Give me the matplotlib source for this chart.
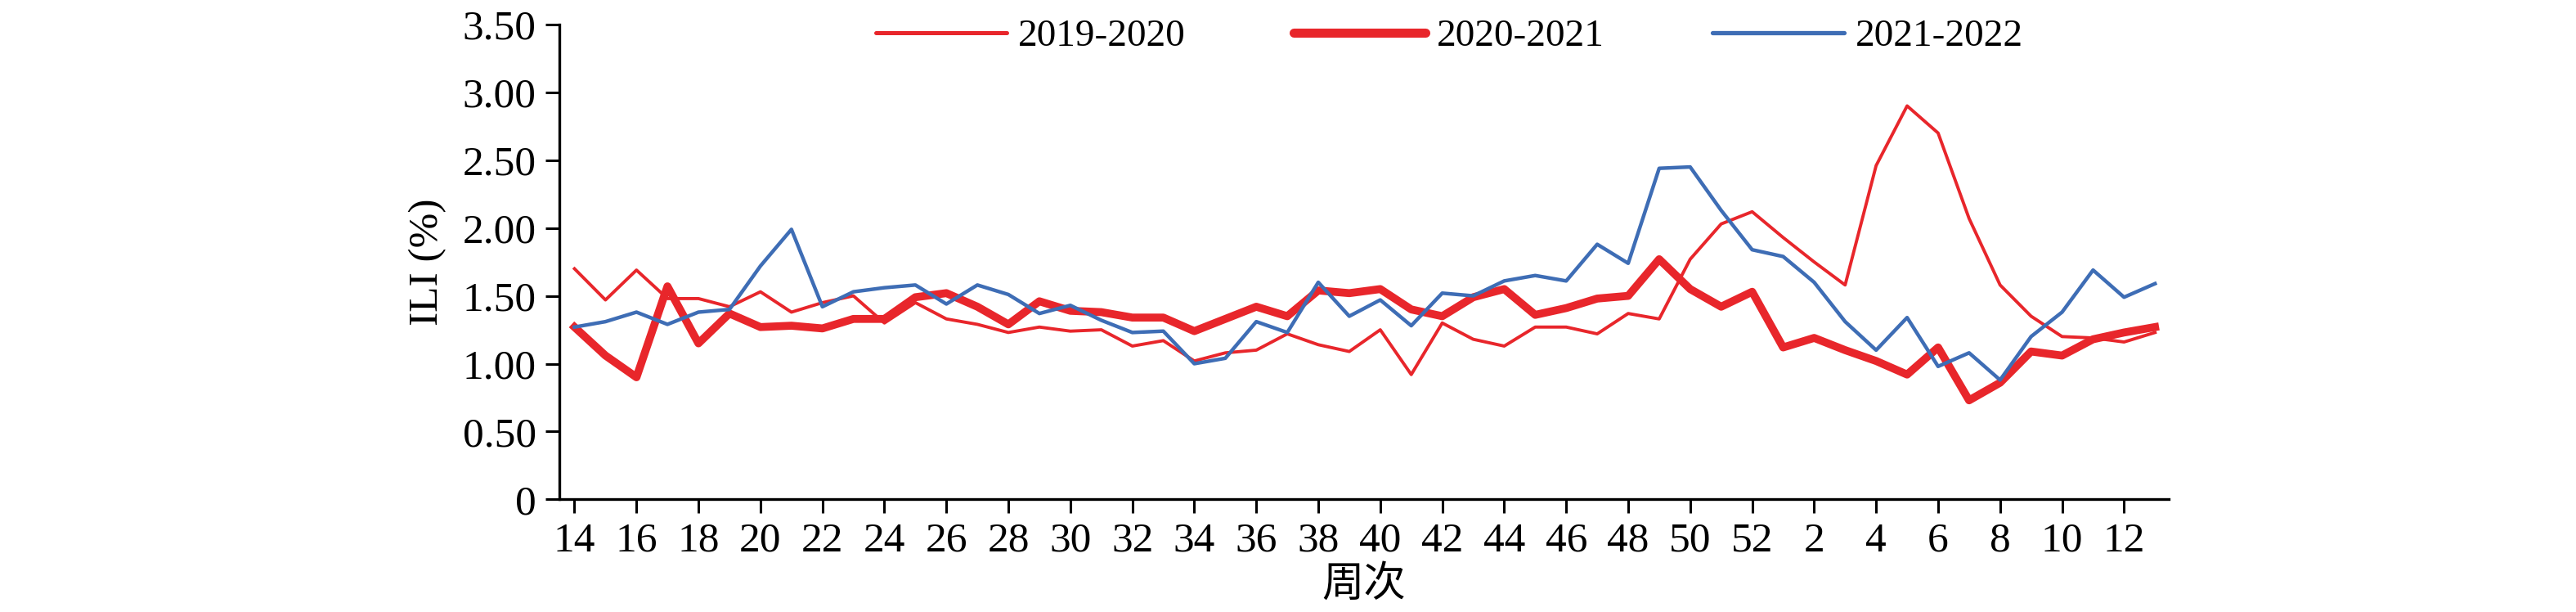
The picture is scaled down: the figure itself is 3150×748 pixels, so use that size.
import matplotlib
matplotlib.use("Agg")
import matplotlib.pyplot as plt

# weeks 14..52 then 1..13
weeks = list(range(14, 53)) + list(range(1, 14))

ili_2019 = [1.70, 1.47, 1.69, 1.48, 1.48, 1.42, 1.53, 1.38, 1.45, 1.50,
            1.30, 1.45, 1.33, 1.29, 1.23, 1.27, 1.24, 1.25, 1.13, 1.17,
            1.02, 1.08, 1.10, 1.22, 1.14, 1.09, 1.25, 0.92, 1.30, 1.18,
            1.13, 1.27, 1.27, 1.22, 1.37, 1.33, 1.77, 2.03, 2.12, 1.93,
            1.75, 1.58, 2.46, 2.90, 2.70, 2.07, 1.58, 1.35, 1.20, 1.19,
            1.16, 1.23]
ili_2020 = [1.27, 1.06, 0.90, 1.57, 1.15, 1.37, 1.27, 1.28, 1.26, 1.33,
            1.33, 1.49, 1.52, 1.42, 1.29, 1.46, 1.39, 1.38, 1.34, 1.34,
            1.24, 1.33, 1.42, 1.35, 1.54, 1.52, 1.55, 1.40, 1.35, 1.49,
            1.55, 1.36, 1.41, 1.48, 1.50, 1.77, 1.55, 1.42, 1.53, 1.12,
            1.19, 1.10, 1.02, 0.92, 1.12, 0.73, 0.86, 1.09, 1.06, 1.18,
            1.23, 1.27]
ili_2021 = [1.27, 1.31, 1.38, 1.29, 1.38, 1.40, 1.72, 1.99, 1.42, 1.53,
            1.56, 1.58, 1.44, 1.58, 1.51, 1.37, 1.43, 1.32, 1.23, 1.24,
            1.00, 1.04, 1.31, 1.23, 1.60, 1.35, 1.47, 1.28, 1.52, 1.50,
            1.61, 1.65, 1.61, 1.88, 1.74, 2.44, 2.45, 2.13, 1.84, 1.79,
            1.60, 1.31, 1.10, 1.34, 0.98, 1.08, 0.88, 1.20, 1.38, 1.69,
            1.49, 1.59]

y_ticks = [0, 0.5, 1.0, 1.5, 2.0, 2.5, 3.0, 3.5]
y_tick_labels = ["0", "0.50", "1.00", "1.50", "2.00", "2.50", "3.00", "3.50"]

red = "#E8262B"
blue = "#3E6DB5"
serif = ["Liberation Serif", "DejaVu Serif"]
cjk = ["Noto Sans CJK SC", "DejaVu Sans"]
fs = 37

fig = plt.figure(figsize=(31.5, 7.48), dpi=100)
ax = fig.add_axes([0.217, 0.184, 0.625, 0.776])

x = list(range(len(weeks)))
ax.plot(x, ili_2019, color=red, lw=2.8, label="2019-2020")
ax.plot(x, ili_2020, color=red, lw=7.0, label="2020-2021")
ax.plot(x, ili_2021, color=blue, lw=3.2, label="2021-2022")

ax.set_xlim(-0.5, 51.45)
ax.set_ylim(0, 3.5)

xt = [i for i, w in enumerate(weeks) if w % 2 == 0]
ax.set_xticks(xt)
ax.set_xticklabels([str(weeks[i]) for i in xt], family=serif, fontsize=fs)
ax.set_yticks(y_ticks)
ax.set_yticklabels(y_tick_labels, family=serif, fontsize=fs)
ax.tick_params(axis="both", direction="out", length=12, width=2.2, colors="black", pad=8)

for s in ["top", "right"]:
    ax.spines[s].set_visible(False)
for s in ["left", "bottom"]:
    ax.spines[s].set_linewidth(2.4)

ax.set_ylabel("ILI (%)", family=serif, fontsize=fs, labelpad=14)
ax.set_xlabel("周次", family=cjk, fontsize=fs, labelpad=2)

leg = ax.legend(loc="upper center", bbox_to_anchor=(0.553, 1.085), ncol=3, frameon=False,
                prop={"family": serif, "size": 34}, handlelength=3.4, columnspacing=2.8,
                handletextpad=0.3)
leg_widths = [3.6, 8.0, 3.8]
for line, w in zip(leg.get_lines(), leg_widths):
    line.set_linewidth(w)
    line.set_solid_capstyle("round")

fig.savefig("out.png", dpi=100)
